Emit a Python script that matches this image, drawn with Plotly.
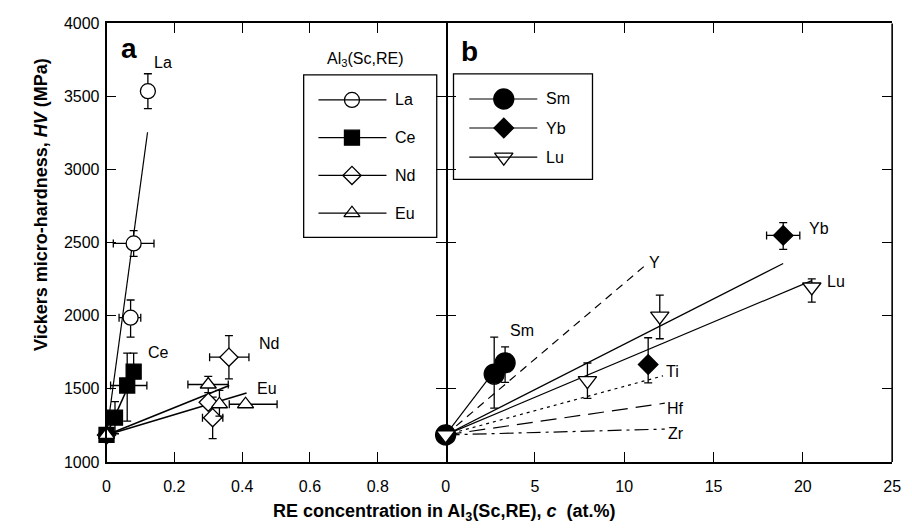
import plotly.graph_objects as go

# ---------------- data ----------------
# Panel a : Al3(Sc,RE), RE = La, Ce, Nd, Eu
la_x = [0.0, 0.071, 0.080, 0.122]
la_y = [1185, 1987, 2495, 3537]
la_xerr_p = [0, 0.030, 0.060, 0]
la_xerr_m = [0, 0.034, 0.060, 0]
la_yerr_p = [0, 121, 88, 119]
la_yerr_m = [0, 133, 89, 120]

ce_x = [0.0, 0.025, 0.061, 0.080]
ce_y = [1185, 1303, 1523, 1618]
ce_xerr_p = [0, 0, 0.058, 0]
ce_xerr_m = [0, 0, 0.049, 0]
ce_yerr_p = [0, 110, 221, 126]
ce_yerr_m = [0, 110, 243, 0]

nd_x = [0.0, 0.300, 0.313, 0.361]
nd_y = [1185, 1409, 1303, 1717]
nd_xerr_p = [0, 0, 0.030, 0.059]
nd_xerr_m = [0, 0, 0.030, 0.057]
nd_yerr_p = [0, 0, 140, 148]
nd_yerr_m = [0, 0, 144, 149]

eu_x = [0.0, 0.300, 0.333, 0.410]
eu_y = [1185, 1530, 1395, 1395]
eu_xerr_p = [0, 0.059, 0, 0.093]
eu_xerr_m = [0, 0.060, 0, 0.048]
eu_yerr_p = [0, 55, 95, 0]
eu_yerr_m = [0, 55, 82, 0]

# linear fits in panel a  (start, end)
la_fit_x, la_fit_y = [0.0, 0.121], [1185, 3256]
ce_fit_x, ce_fit_y = [0.0, 0.055], [1185, 1470]
nd_fit_x, nd_fit_y = [0.0, 0.362], [1185, 1523]
eu_fit_x, eu_fit_y = [0.0, 0.413], [1185, 1472]

# Panel b : Sm, Yb, Lu (at.%)
sm_x = [0.0, 2.72, 3.33]
sm_y = [1185, 1601, 1678]
sm_yerr_p = [0, 253, 110]
sm_yerr_m = [0, 232, 133]

yb_x = [0.0, 11.34, 18.9]
yb_y = [1185, 1667, 2550]
yb_xerr_p = [0, 0, 0.93]
yb_xerr_m = [0, 0, 0.93]
yb_yerr_p = [0, 183, 88]
yb_yerr_m = [0, 126, 95]

lu_x = [0.0, 7.94, 11.99, 20.5]
lu_y = [1185, 1556, 1998, 2197]
lu_yerr_p = [0, 121, 143, 55]
lu_yerr_m = [0, 121, 155, 104]

# linear fits in panel b
sm_fit_x, sm_fit_y = [0.0, 2.87], [1185, 1645]
yb_fit_x, yb_fit_y = [0.0, 18.9], [1185, 2358]
lu_fit_x, lu_fit_y = [0.0, 20.5], [1185, 2241]
y_fit_x, y_fit_y = [0.0, 11.34], [1185, 2362]
ti_fit_x, ti_fit_y = [0.0, 12.17], [1185, 1589]
hf_fit_x, hf_fit_y = [0.0, 12.27], [1185, 1402]
zr_fit_x, zr_fit_y = [0.0, 12.27], [1185, 1225]

# axis ticks
y_ticks = [1000, 1500, 2000, 2500, 3000, 3500, 4000]
xa_ticks = [0, 0.2, 0.4, 0.6, 0.8]
xa_labels = ["0", "0.2", "0.4", "0.6", "0.8"]
xb_ticks = [0, 5, 10, 15, 20, 25]

# ---------------- figure ----------------
W, H = 912, 530
FONT = "Liberation Sans, Arial, sans-serif"
BLACK = "black"

fig = go.Figure()


def fit(x, y, xa, ya, dash="solid", width=1.2):
    fig.add_trace(go.Scatter(x=x, y=y, mode="lines", xaxis=xa, yaxis=ya,
                             line=dict(color=BLACK, width=width, dash=dash),
                             showlegend=False, hoverinfo="skip"))


def pts(x, y, xa, ya, symbol, size, fill, ex=None, exm=None, ey=None, eym=None, lw=1.3):
    kw = {}
    if ex is not None:
        kw["error_x"] = dict(type="data", array=ex, arrayminus=exm, symmetric=False,
                             color=BLACK, thickness=1.3, width=4)
    if ey is not None:
        kw["error_y"] = dict(type="data", array=ey, arrayminus=eym, symmetric=False,
                             color=BLACK, thickness=1.3, width=4)
    fig.add_trace(go.Scatter(x=x, y=y, mode="markers", xaxis=xa, yaxis=ya,
                             marker=dict(symbol=symbol, size=size, color=fill, opacity=1,
                                         line=dict(color=BLACK, width=lw)),
                             showlegend=False, cliponaxis=False, **kw))


# panel a fits
fit(la_fit_x, la_fit_y, "x", "y")
fit(ce_fit_x, ce_fit_y, "x", "y", width=1.6)
fit(nd_fit_x, nd_fit_y, "x", "y", width=1.6)
fit(eu_fit_x, eu_fit_y, "x", "y", width=1.6)
# panel a points
pts(la_x, la_y, "x", "y", "circle", 15, "white", la_xerr_p, la_xerr_m, la_yerr_p, la_yerr_m)
pts(nd_x, nd_y, "x", "y", "diamond", 14, "white", nd_xerr_p, nd_xerr_m, nd_yerr_p, nd_yerr_m)
pts(ce_x, ce_y, "x", "y", "square", 15, BLACK, ce_xerr_p, ce_xerr_m, ce_yerr_p, ce_yerr_m)
pts(eu_x, eu_y, "x", "y", "triangle-up", 14, "white", eu_xerr_p, eu_xerr_m, eu_yerr_p, eu_yerr_m)

# panel b fits
fit(y_fit_x, y_fit_y, "x2", "y2", dash="8px,6px")
fit(ti_fit_x, ti_fit_y, "x2", "y2", dash="3px,4px")
fit(hf_fit_x, hf_fit_y, "x2", "y2", dash="16px,8px")
fit(zr_fit_x, zr_fit_y, "x2", "y2", dash="14px,5px,3px,5px")
fit(sm_fit_x, sm_fit_y, "x2", "y2")
fit(yb_fit_x, yb_fit_y, "x2", "y2")
fit(lu_fit_x, lu_fit_y, "x2", "y2")
# panel b points
pts(sm_x, sm_y, "x2", "y2", "circle", 20, BLACK, None, None, sm_yerr_p, sm_yerr_m)
pts(yb_x, yb_y, "x2", "y2", "diamond", 15, BLACK, yb_xerr_p, yb_xerr_m, yb_yerr_p, yb_yerr_m)
pts(lu_x, lu_y, "x2", "y2", "triangle-down", 16, "white", None, None, lu_yerr_p, lu_yerr_m)

# ---------------- hand drawn legends (pixel overlay axis x3/y3) ----------------
leg_a_rows = ["La", "Ce", "Nd", "Eu"]
leg_a_sym = ["circle", "square", "diamond", "triangle-up"]
leg_a_fill = ["white", BLACK, "white", "white"]
leg_a_size = [15, 15, 14, 14]
leg_a_y = [95, 134, 173, 212]
leg_b_rows = ["Sm", "Yb", "Lu"]
leg_b_sym = ["circle", "diamond", "triangle-down"]
leg_b_fill = [BLACK, BLACK, "white"]
leg_b_size = [20, 15, 16]
leg_b_y = [94, 124, 154]

shapes = []
annos = []
# legend a
shapes.append(dict(type="rect", xref="x3", yref="y3", x0=304, x1=439, y0=69, y1=237,
                   line=dict(color=BLACK, width=1.3)))
annos.append(dict(xref="x3", yref="y3", x=366, y=53, text="Al<sub>3</sub>(Sc,RE)",
                  showarrow=False, font=dict(size=16, family=FONT, color=BLACK)))
for lab, yy in zip(leg_a_rows, leg_a_y):
    shapes.append(dict(type="line", xref="x3", yref="y3", x0=319, x1=388, y0=yy, y1=yy,
                       line=dict(color=BLACK, width=1.2)))
    annos.append(dict(xref="x3", yref="y3", x=395, y=yy, text=lab, xanchor="left",
                      showarrow=False, font=dict(size=16, family=FONT, color=BLACK)))
fig.add_trace(go.Scatter(x=[353] * 4, y=leg_a_y, xaxis="x3", yaxis="y3", mode="markers",
                         marker=dict(symbol=leg_a_sym, size=leg_a_size, color=leg_a_fill,
                                     opacity=1, line=dict(color=BLACK, width=1.3)),
                         showlegend=False, hoverinfo="skip"))
# legend b
shapes.append(dict(type="rect", xref="x3", yref="y3", x0=456, x1=597, y0=68, y1=177,
                   line=dict(color=BLACK, width=1.3)))
for lab, yy in zip(leg_b_rows, leg_b_y):
    shapes.append(dict(type="line", xref="x3", yref="y3", x0=472, x1=541, y0=yy, y1=yy,
                       line=dict(color=BLACK, width=1.2)))
    annos.append(dict(xref="x3", yref="y3", x=548, y=yy, text=lab, xanchor="left",
                      showarrow=False, font=dict(size=16, family=FONT, color=BLACK)))
fig.add_trace(go.Scatter(x=[507] * 3, y=leg_b_y, xaxis="x3", yaxis="y3", mode="markers",
                         marker=dict(symbol=leg_b_sym, size=leg_b_size, color=leg_b_fill,
                                     opacity=1, line=dict(color=BLACK, width=1.3)),
                         showlegend=False, hoverinfo="skip"))

# right frame border of panel b
shapes.append(dict(type="line", xref="paper", yref="paper", x0=901 / W, x1=901 / W,
                   y0=(H - 469) / H, y1=(H - 16) / H, line=dict(color=BLACK, width=1.6)))

# ---------------- text labels ----------------
lab_font = dict(size=16, family=FONT, color=BLACK)
for txt, x, y, ax in [("La", 0.168, 3730, "x"), ("Ce", 0.153, 1748, "x"),
                      ("Nd", 0.478, 1810, "x"), ("Eu", 0.473, 1501, "x"),
                      ("Sm", 4.26, 1899, "x2"), ("Y", 11.70, 2362, "x2"),
                      ("Ti", 12.71, 1618, "x2"), ("Hf", 12.89, 1369, "x2"),
                      ("Zr", 12.89, 1192, "x2"), ("Yb", 20.9, 2598, "x2"),
                      ("Lu", 21.86, 2234, "x2")]:
    annos.append(dict(xref=ax, yref="y" if ax == "x" else "y2", x=x, y=y, text=txt,
                      xanchor="center", yanchor="middle", showarrow=False, font=lab_font))

annos.append(dict(xref="x3", yref="y3", x=127, y=42, text="<b>a</b>", showarrow=False,
                  font=dict(size=28, family=FONT, color=BLACK)))
annos.append(dict(xref="x3", yref="y3", x=472, y=45, text="<b>b</b>", showarrow=False,
                  font=dict(size=28, family=FONT, color=BLACK)))
annos.append(dict(xref="x3", yref="y3", x=446, y=521,
                  text="<b>RE concentration in Al<sub>3</sub>(Sc,RE), <i>c</i>  (at.%)</b>",
                  showarrow=False, font=dict(size=18, family=FONT, color=BLACK)))
annos.append(dict(xref="x3", yref="y3", x=38, y=203, textangle=-90,
                  text="<b>Vickers micro-hardness, <i>HV</i> (MPa)</b>",
                  showarrow=False, font=dict(size=18, family=FONT, color=BLACK)))

# ---------------- layout ----------------
x0p, xmid, x1p = 104 / W, 448 / W, 901 / W
y0p, y1p = (H - 469) / H, (H - 16) / H

common = dict(linecolor=BLACK, linewidth=1.6, ticks="inside", ticklen=10, tickwidth=1.2,
              tickcolor=BLACK, showgrid=False, zeroline=False,
              tickfont=dict(size=16, family=FONT, color=BLACK))

fig.update_layout(
    width=W, height=H, margin=dict(l=0, r=0, t=0, b=0),
    paper_bgcolor="white", plot_bgcolor="rgba(0,0,0,0)",
    showlegend=False,
    xaxis=dict(domain=[x0p, xmid], range=[0, 1], tickvals=xa_ticks, ticktext=xa_labels,
               anchor="y", showline=True, mirror="ticks", ticklabelstandoff=9, **common),
    xaxis2=dict(domain=[xmid, x1p], range=[0, 25], tickvals=xb_ticks, anchor="y2",
                showline=True, mirror="ticks", ticklabelstandoff=9, **common),
    yaxis=dict(domain=[y0p, y1p], range=[1000, 4000], tickvals=y_ticks, anchor="x",
               showline=True, mirror="ticks", ticklabelstandoff=2, **common),
    yaxis2=dict(domain=[y0p, y1p], range=[1000, 4000], tickvals=y_ticks, anchor="x2",
                showline=False, mirror="ticks", showticklabels=False, matches="y", **common),
    xaxis3=dict(domain=[0, 1], range=[0, W], visible=False, anchor="y3", fixedrange=True),
    yaxis3=dict(domain=[0, 1], range=[H, 0], visible=False, anchor="x3", fixedrange=True),
    shapes=shapes, annotations=annos,
)

fig.write_html("out.html")
